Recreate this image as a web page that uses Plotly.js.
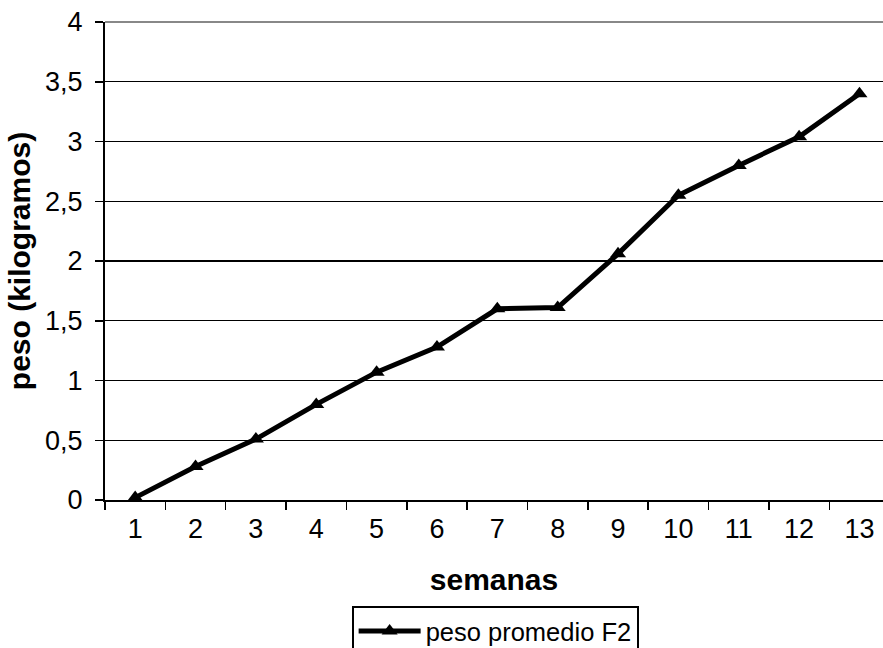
<!DOCTYPE html>
<html>
<head>
<meta charset="utf-8">
<script src="https://cdn.plot.ly/plotly-3.0.1.min.js"></script>
<style>
html,body{margin:0;padding:0;background:#fff;overflow:hidden;}
#chart{width:883px;height:648px;}
</style>
</head>
<body>
<div id="chart"></div>
<script>
const semanas = ['1','2','3','4','5','6','7','8','9','10','11','12','13'];
const pesoPromedioF2 = [0.02, 0.28, 0.51, 0.80, 1.07, 1.28, 1.60, 1.61, 2.06, 2.55, 2.80, 3.04, 3.40];
const serieNombre = 'peso promedio F2';
const yTickVals = [0, 0.5, 1, 1.5, 2, 2.5, 3, 3.5, 4];

const FONT = 'Liberation Sans, Arial, sans-serif';

const trace = {
  x: semanas,
  y: pesoPromedioF2,
  type: 'scatter',
  mode: 'lines+markers',
  name: serieNombre,
  line: {color: '#000', width: 5},
  marker: {symbol: 'triangle-up', size: 14, color: '#000'},
  showlegend: true
};

const layout = {
  width: 883,
  height: 648,
  margin: {l: 105, r: 0, t: 22, b: 148, pad: 0},
  paper_bgcolor: '#fff',
  plot_bgcolor: '#fff',
  separators: ',.',
  font: {family: FONT, color: '#000', size: 27},
  showlegend: true,
  xaxis: {
    type: 'category',
    range: [-0.5, 12.39],
    tickson: 'boundaries',
    ticks: 'outside',
    ticklen: 8,
    tickwidth: 1.5,
    tickcolor: '#000',
    showline: true,
    linecolor: '#000',
    linewidth: 2,
    showgrid: false,
    zeroline: false,
    tickfont: {family: FONT, size: 27, color: '#000'},
    ticklabelstandoff: 4,
    title: {text: '<b>semanas</b>', font: {family: FONT, size: 30, color: '#000'}, standoff: 26}
  },
  yaxis: {
    range: [0, 4],
    tickvals: yTickVals,
    ticks: 'outside',
    ticklen: 8,
    tickwidth: 1.5,
    tickcolor: '#000',
    showline: true,
    linecolor: '#000',
    linewidth: 2,
    showgrid: true,
    gridcolor: '#000',
    gridwidth: 1.3,
    zeroline: false,
    tickfont: {family: FONT, size: 27, color: '#000'},
    ticklabelstandoff: 7,
    title: {text: '<b>peso (kilogramos)</b>', font: {family: FONT, size: 30, color: '#000'}, standoff: 6}
  },
  legend: {
    xref: 'paper',
    yref: 'container',
    x: 0.317,
    xanchor: 'left',
    y: 1 - 606 / 648,
    yanchor: 'top',
    bordercolor: '#000',
    borderwidth: 2,
    bgcolor: '#fff',
    font: {family: FONT, size: 25.5, color: '#000'},
    itemwidth: 62
  },
  shapes: [{
    type: 'line', xref: 'paper', yref: 'paper', x0: 0, x1: 1, y0: 1, y1: 1,
    line: {color: '#888', width: 2}
  }]
};

Plotly.newPlot('chart', [trace], layout, {displayModeBar: false, staticPlot: true});
</script>
</body>
</html>
